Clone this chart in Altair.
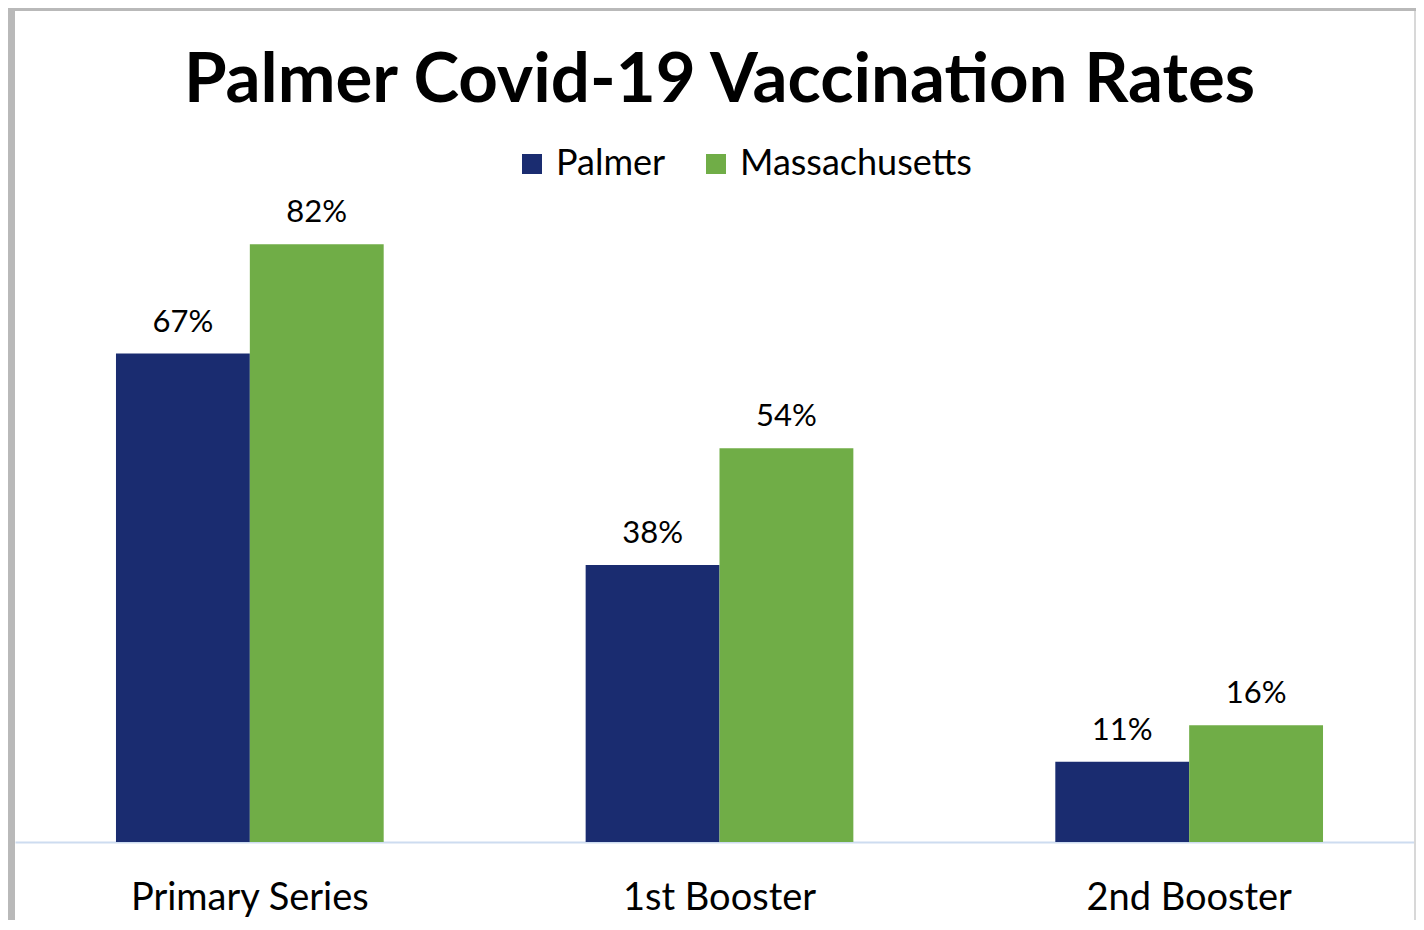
import altair as alt
import pandas as pd

categories = ["Primary Series", "1st Booster", "2nd Booster"]
series = ["Palmer", "Massachusetts"]
palmer = [67, 38, 11]
massachusetts = [82, 54, 16]
colors = ["#1a2c70", "#70ad47"]
title_text = "Palmer Covid-19 Vaccination Rates"

rows = []
for i, c in enumerate(categories):
    rows.append({"category": c, "series": "Palmer", "value": palmer[i], "label": f"{palmer[i]}%"})
    rows.append({"category": c, "series": "Massachusetts", "value": massachusetts[i], "label": f"{massachusetts[i]}%"})
df = pd.DataFrame(rows)

FONT = "Lato"
W, H = 1401, 729
RANGE_W = 1409
BOTTOM = 78

x = alt.X("category:N", sort=categories, title=None,
          scale=alt.Scale(paddingInner=0.43, paddingOuter=0.215, range=[0, RANGE_W]),
          axis=alt.Axis(labelAngle=0, ticks=False, labelFont=FONT, labelFontSize=38,
                        labelColor="#000000", labelPadding=37, domainColor="#cddcf0",
                        domainWidth=2, labelFontWeight="normal", labelLimit=600))
xo = alt.XOffset("series:N", sort=series, scale=alt.Scale(paddingInner=0))
y = alt.Y("value:Q", scale=alt.Scale(domain=[0, 100]), axis=None)

bars = alt.Chart(df).mark_bar().encode(
    x=x, xOffset=xo, y=y,
    color=alt.Color("series:N", sort=series,
                    scale=alt.Scale(domain=series, range=colors),
                    legend=alt.Legend(title=None, orient="none", direction="horizontal",
                                      legendX=499, legendY=33, symbolType="square",
                                      symbolSize=400, symbolStrokeWidth=0,
                                      labelFont=FONT, labelFontSize=36, labelColor="#000000",
                                      labelOffset=6, columnPadding=32, labelLimit=600)),
)

labels = alt.Chart(df).mark_text(font=FONT, fontSize=31, baseline="alphabetic",
                                 dy=-22, color="#000000").encode(
    x=x, xOffset=xo, y=y, text="label:N")

title = alt.Chart(pd.DataFrame({"t": [title_text]})).mark_text(
    font=FONT, fontSize=69, fontWeight="bold", color="#000000",
    baseline="alphabetic", align="center").encode(
    x=alt.value(RANGE_W / 2), y=alt.value(-11), text="t:N")

frame_left = alt.Chart(df).mark_rule(color="#b9b9b9", strokeWidth=7).encode(
    x=alt.value(-3.5), y=alt.value(-105), y2=alt.value(H + BOTTOM))
frame_top = alt.Chart(df).mark_rule(color="#b9b9b9", strokeWidth=3).encode(
    x=alt.value(-7), x2=alt.value(W), y=alt.value(-103.5))
frame_right = alt.Chart(df).mark_rule(color="#d8d8d8", strokeWidth=2).encode(
    x=alt.value(W - 1), y=alt.value(-102), y2=alt.value(H + BOTTOM))

chart = alt.layer(bars, labels, title, frame_left, frame_top, frame_right).properties(
    width=W, height=H,
    autosize=alt.AutoSizeParams(type="none"),
    padding={"left": 7, "top": 105, "right": 0, "bottom": BOTTOM},
    background="white",
).configure_view(stroke=None)

chart.save("out.html", embed_options={"renderer": "svg", "actions": False})
